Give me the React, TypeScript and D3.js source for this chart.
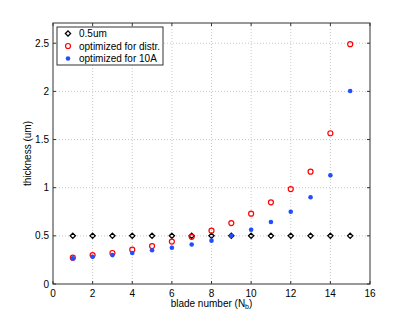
import React from "react";
import * as d3 from "d3";

const blades = [1, 2, 3, 4, 5, 6, 7, 8, 9, 10, 11, 12, 13, 14, 15];
const uniform = [0.5, 0.5, 0.5, 0.5, 0.5, 0.5, 0.5, 0.5, 0.5, 0.5, 0.5, 0.5, 0.5, 0.5, 0.5];
const optDistr = [0.273, 0.3, 0.322, 0.356, 0.394, 0.44, 0.49, 0.554, 0.633, 0.73, 0.848, 0.986, 1.166, 1.565, 2.49];
const opt10A = [0.266, 0.282, 0.3, 0.322, 0.35, 0.377, 0.41, 0.45, 0.5, 0.564, 0.644, 0.75, 0.9, 1.128, 2.004];
const xTicks = [0, 2, 4, 6, 8, 10, 12, 14, 16];
const yTicks = [0, 0.5, 1, 1.5, 2, 2.5];
const legendLabels = ["0.5um", "optimized for distr.", "optimized for 10A"];

const L = 53, R = 370, T = 23, B = 284;

export default function App() {
  const x = d3.scaleLinear().domain([0, 16]).range([L, R]);
  const y = d3.scaleLinear().domain([0, 2.71]).range([B, T]);
  const font = "Liberation Sans, Arial, sans-serif";
  const diamond = (cx: number, cy: number, k: string) => (
    <path key={k} d={`M${cx},${cy - 2.6}L${cx + 2.6},${cy}L${cx},${cy + 2.6}L${cx - 2.6},${cy}Z`} fill="none" stroke="#000" strokeWidth={1.3} />
  );
  const ring = (cx: number, cy: number, k: string) => (
    <circle key={k} cx={cx} cy={cy} r={2.5} fill="none" stroke="#ff0000" strokeWidth={1.2} />
  );
  const dot = (cx: number, cy: number, k: string) => (
    <circle key={k} cx={cx} cy={cy} r={2.3} fill="#1f4fff" />
  );
  return (
    <svg width={409} height={320} style={{ position: "absolute", left: 0, top: 0, background: "#fff" }} fontFamily={font}>
      <rect x={0} y={0} width={409} height={320} fill="#fff" />
      {xTicks.slice(1, -1).map((t) => (
        <line key={"gx" + t} x1={x(t)} x2={x(t)} y1={T} y2={B} stroke="#c8c8c8" strokeDasharray="1,2" strokeWidth={1} />
      ))}
      {yTicks.slice(1).map((t) => (
        <line key={"gy" + t} x1={L} x2={R} y1={y(t)} y2={y(t)} stroke="#c8c8c8" strokeDasharray="1,2" strokeWidth={1} />
      ))}
      {xTicks.map((t) => (
        <g key={"tx" + t}>
          <line x1={x(t)} x2={x(t)} y1={B} y2={B - 3} stroke="#333" />
          <line x1={x(t)} x2={x(t)} y1={T} y2={T + 3} stroke="#333" />
          <text x={x(t)} y={B + 13} fontSize={10} textAnchor="middle" fill="#000">{t}</text>
        </g>
      ))}
      {yTicks.map((t) => (
        <g key={"ty" + t}>
          <line x1={L} x2={L + 3} y1={y(t)} y2={y(t)} stroke="#333" />
          <line x1={R} x2={R - 3} y1={y(t)} y2={y(t)} stroke="#333" />
          <text x={L - 4} y={y(t) + 3.5} fontSize={10} textAnchor="end" fill="#000">{t}</text>
        </g>
      ))}
      <rect x={L} y={T} width={R - L} height={B - T} fill="none" stroke="#333" strokeWidth={1} />
      {blades.map((b, i) => diamond(x(b), y(uniform[i]), "d" + i))}
      {blades.map((b, i) => ring(x(b), y(optDistr[i]), "r" + i))}
      {blades.map((b, i) => dot(x(b), y(opt10A[i]), "b" + i))}
      <text x={(L + R) / 2} y={307} fontSize={10} textAnchor="middle" fill="#000">
        blade number (N<tspan fontSize={7} dy={2}>b</tspan><tspan dy={-2}>)</tspan>
      </text>
      <text transform={`translate(31,${(T + B) / 2}) rotate(-90)`} fontSize={10} textAnchor="middle" fill="#000">thickness (um)</text>
      <rect x={57} y={27} width={106} height={38} fill="#fff" stroke="#333" strokeWidth={1} />
      {diamond(68, 33.5, "ld")}
      {ring(68, 46, "lr")}
      {dot(68, 58.5, "lb")}
      {legendLabels.map((s, i) => (
        <text key={"l" + i} x={79} y={37 + i * 12.5} fontSize={10} fill="#000">{s}</text>
      ))}
    </svg>
  );
}
